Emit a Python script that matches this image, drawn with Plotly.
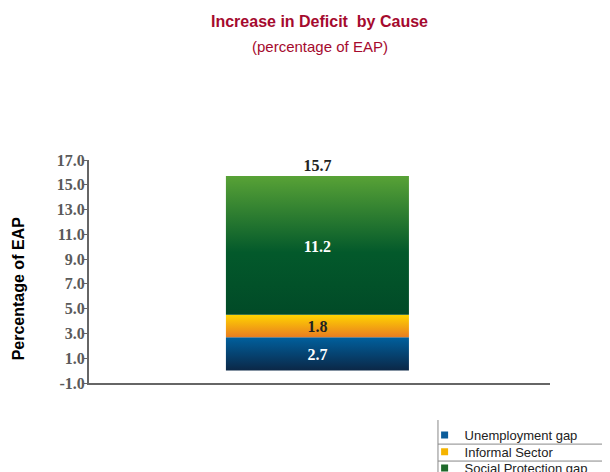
import plotly.graph_objects as go

# ---- data ----
series_names = ["Unemployment gap", "Informal Sector", "Social Protection gap"]
series_values = [2.7, 1.8, 11.2]
total_label = "15.7"
y_ticks = [-1, 1, 3, 5, 7, 9, 11, 13, 15, 17]

# ---- styles ----
gradients = [
    [[0, "#0b2746"], [1, "#00609e"]],
    [[0, "#e97d20"], [1, "#ffd400"]],
    [[0, "#014a27"], [0.45, "#03592b"], [1, "#58a236"]],
]
legend_colors = ["#0b5c9a", "#f5b400", "#1e6a2b"]
label_colors = ["white", "#222222", "white"]
legend_ids = ["legend", "legend2", "legend3"]
legend_ys = [-0.233, -0.309, -0.381]
xc, hw = 0.4955, 0.1985

fig = go.Figure()
base = 0.0
for name, v, g, lc in zip(series_names, series_values, gradients, label_colors):
    top = base + v
    fig.add_trace(go.Scatter(
        x=[xc - hw, xc + hw, xc + hw, xc - hw, xc - hw],
        y=[base, base, top, top, base],
        fill="toself", mode="lines", line=dict(width=0),
        fillgradient=dict(type="vertical", colorscale=g),
        showlegend=False, hoverinfo="skip"))
    fig.add_trace(go.Scatter(
        x=[xc], y=[(base + top) / 2 - 0.2], mode="text", text=[f"<b>{v:.1f}</b>"],
        textfont=dict(family="Liberation Serif", size=16, color=lc),
        showlegend=False, hoverinfo="skip", cliponaxis=False))
    base = top

fig.add_trace(go.Scatter(
    x=[xc], y=[base + 0.75], mode="text", text=[f"<b>{total_label}</b>"],
    textfont=dict(family="Liberation Serif", size=16, color="#222222"),
    showlegend=False, hoverinfo="skip", cliponaxis=False))

for name, c, lid in zip(series_names, legend_colors, legend_ids):
    fig.add_trace(go.Scatter(x=[None], y=[None], mode="markers", name=name, legend=lid,
                             marker=dict(symbol="square", size=7, color=c)))

leg_style = dict(xanchor="left", yanchor="middle", x=0.728,
                 font=dict(family="Liberation Sans", size=13, color="#222222"),
                 itemsizing="trace", itemwidth=30, bgcolor="rgba(0,0,0,0)")

fig.update_layout(
    width=602, height=464, paper_bgcolor="white", plot_bgcolor="white",
    margin=dict(l=81, r=60, t=152, b=89, autoexpand=False),
    showlegend=True,
    legend=dict(y=legend_ys[0], **leg_style),
    legend2=dict(y=legend_ys[1], **leg_style),
    legend3=dict(y=legend_ys[2], **leg_style),
    xaxis=dict(range=[0, 1], showgrid=False, zeroline=False, showticklabels=False,
               showline=True, linecolor="#666666", linewidth=2, ticks=""),
    yaxis=dict(range=[-1, 17], tickvals=y_ticks,
               ticktext=[f"<b>{t:.1f}</b>" for t in y_ticks],
               showgrid=False, zeroline=False, showline=True, linecolor="#666666",
               linewidth=2, ticks="outside", ticklen=3, tickcolor="#666666",
               ticklabelstandoff=-4,
               tickfont=dict(family="Liberation Serif", size=16, color="#5a5a5a")),
    annotations=[
        dict(text="<b>Increase in Deficit  by Cause</b>", xref="paper", yref="paper",
             x=0.5, y=1.619, showarrow=False, xanchor="center", yanchor="middle",
             font=dict(family="Liberation Sans", size=16, color="#a50a2e")),
        dict(text="(percentage of EAP)", xref="paper", yref="paper",
             x=0.5, y=1.511, showarrow=False, xanchor="center", yanchor="middle",
             font=dict(family="Liberation Sans", size=15, color="#a50a2e")),
        dict(text="<b>Percentage of EAP</b>", xref="paper", yref="paper",
             x=-0.154, y=0.42, showarrow=False, textangle=-90,
             xanchor="center", yanchor="middle",
             font=dict(family="Liberation Sans", size=16, color="black")),
    ],
    shapes=[
        dict(type="line", xref="paper", yref="paper", x0=0.757, x1=0.757, y0=-0.166, y1=-0.45,
             line=dict(color="#888888", width=1)),
        dict(type="line", xref="paper", yref="paper", x0=0.757, x1=1.2, y0=-0.274, y1=-0.274,
             line=dict(color="#888888", width=1)),
        dict(type="line", xref="paper", yref="paper", x0=0.757, x1=1.2, y0=-0.35, y1=-0.35,
             line=dict(color="#888888", width=1)),
    ],
)

fig.write_html("out.html")
